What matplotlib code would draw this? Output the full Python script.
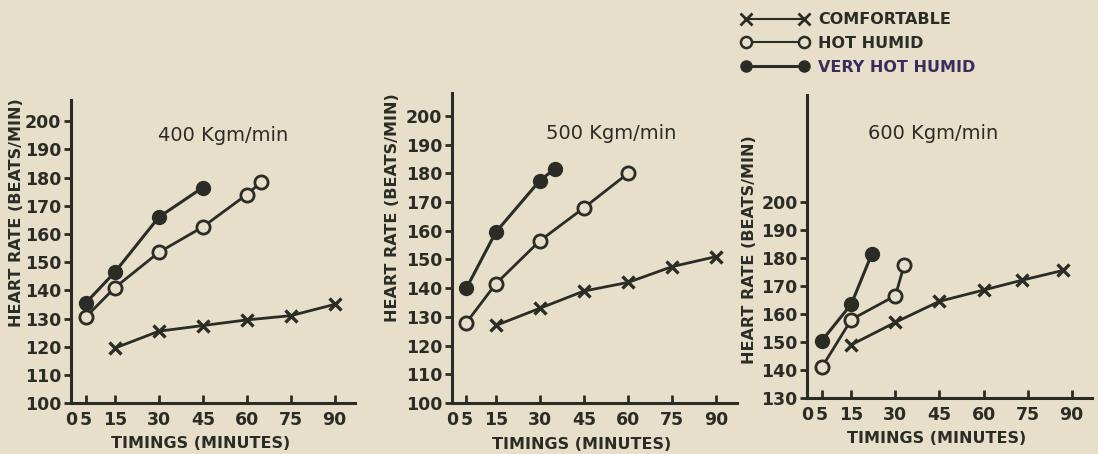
import matplotlib
matplotlib.use("Agg")
import matplotlib.pyplot as plt
from matplotlib.lines import Line2D

# ---- data ----
titles = ["400 Kgm/min", "500 Kgm/min", "600 Kgm/min"]

# 400 Kgm/min
p1_comf_t = [15, 30, 45, 60, 75, 90]
p1_comf_hr = [119.5, 125.5, 127.5, 129.5, 131, 135]
p1_hot_t = [5, 15, 30, 45, 60, 65]
p1_hot_hr = [130.5, 141, 153.5, 162.5, 174, 178.5]
p1_vhot_t = [5, 15, 30, 45]
p1_vhot_hr = [135.5, 146.5, 166, 176.5]

# 500 Kgm/min
p2_comf_t = [15, 30, 45, 60, 75, 90]
p2_comf_hr = [127, 133, 139, 142, 147.5, 151]
p2_hot_t = [5, 15, 30, 45, 60]
p2_hot_hr = [128, 141.5, 156.5, 168, 180]
p2_vhot_t = [5, 15, 30, 35]
p2_vhot_hr = [140, 159.5, 177.5, 181.5]

# 600 Kgm/min
p3_comf_t = [15, 30, 45, 60, 73, 87]
p3_comf_hr = [149, 157, 164.5, 168.5, 172, 175.5]
p3_hot_t = [5, 15, 30, 33]
p3_hot_hr = [141, 158, 166.5, 177.5]
p3_vhot_t = [5, 15, 22]
p3_vhot_hr = [150.5, 163.5, 181.5]

x_ticks = [0, 5, 15, 30, 45, 60, 75, 90]
y_ticks_a = list(range(100, 201, 10))
y_ticks_b = list(range(130, 201, 10))

INK = "#2b2c25"
PAPER = "#e7dfca"

fig = plt.figure(figsize=(10.98, 4.54), dpi=100, facecolor=PAPER)

# axes rectangles (figure fractions)
rects = [
    [0.0647, 0.1123, 0.2587, 0.667],
    [0.4114, 0.1123, 0.2596, 0.683],
    [0.7352, 0.1233, 0.2596, 0.667],
]
panels = [
    (p1_comf_t, p1_comf_hr, p1_hot_t, p1_hot_hr, p1_vhot_t, p1_vhot_hr),
    (p2_comf_t, p2_comf_hr, p2_hot_t, p2_hot_hr, p2_vhot_t, p2_vhot_hr),
    (p3_comf_t, p3_comf_hr, p3_hot_t, p3_hot_hr, p3_vhot_t, p3_vhot_hr),
]
ylims = [(100, 207.5), (100, 208), (130, 238)]
yticks = [y_ticks_a, y_ticks_a, y_ticks_b]
ylab_pos = [(-0.165, 0.63), (-0.18, 0.63), (-0.175, 0.49)]
title_pos = [(0.535, 0.885), (0.56, 0.87), (0.44, 0.875)]

for i in range(3):
    ax = fig.add_axes(rects[i])
    ax.set_facecolor(PAPER)
    ct, chr_, ht, hhr, vt, vhr = panels[i]

    ax.plot(ct, chr_, color=INK, lw=2, marker="x", ms=9, mew=2.4, zorder=3)
    ax.plot(ht, hhr, color=INK, lw=2, marker="o", ms=9.5, mfc=PAPER, mec=INK, mew=2, zorder=3)
    ax.plot(vt, vhr, color=INK, lw=2.2, marker="o", ms=10, mfc=INK, mec=INK, zorder=4)

    ax.set_xlim(0, 97)
    ax.set_ylim(*ylims[i])
    ax.set_xticks(x_ticks)
    ax.set_yticks(yticks[i])
    for s in ["top", "right"]:
        ax.spines[s].set_visible(False)
    for s in ["left", "bottom"]:
        ax.spines[s].set_linewidth(2.2)
        ax.spines[s].set_color(INK)
    ax.tick_params(axis="x", direction="in", length=6, width=2, colors=INK, pad=6)
    ax.tick_params(axis="y", direction="out", length=5, width=2, colors=INK, pad=2)
    for lab in ax.get_xticklabels() + ax.get_yticklabels():
        lab.set_fontsize(12.5)
        lab.set_fontweight("bold")
        lab.set_color(INK)

    ax.set_ylabel("HEART RATE (BEATS/MIN)", fontsize=11.5, fontweight="bold", color=INK)
    ax.yaxis.set_label_coords(*ylab_pos[i])
    ax.set_xlabel("TIMINGS (MINUTES)", fontsize=11.5, fontweight="bold", color=INK)
    ax.xaxis.set_label_coords(0.455, -0.108)
    ax.text(title_pos[i][0], title_pos[i][1], titles[i], transform=ax.transAxes,
            ha="center", va="center", fontsize=14, color=INK)

# legend at top right
handles = [
    Line2D([0], [0], color=INK, lw=1.5, marker="x", ms=8, mew=2),
    Line2D([0], [0], color=INK, lw=1.5, marker="o", ms=8, mfc=PAPER, mec=INK, mew=1.8),
    Line2D([0], [0], color=INK, lw=2.2, marker="o", ms=8, mfc=INK, mec=INK),
]
leg = fig.legend(handles, ["COMFORTABLE", "HOT HUMID", "VERY HOT HUMID"],
                 loc="upper left", bbox_to_anchor=(0.662, 1.005), frameon=False,
                 handlelength=4.2, handletextpad=0.6, labelspacing=0.55,
                 prop={"weight": "bold", "size": 11.5}, numpoints=2)
for t, c in zip(leg.get_texts(), [INK, INK, "#3a2c5c"]):
    t.set_color(c)

fig.savefig("out.png", dpi=100, facecolor=PAPER)
